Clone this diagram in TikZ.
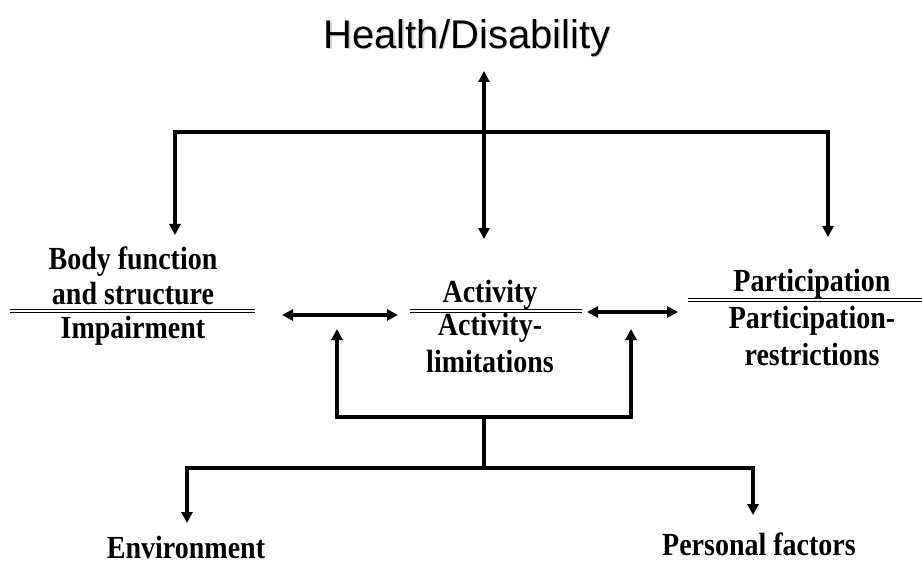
\documentclass[tikz,border=0pt]{standalone}
\usepackage{fontspec}
\setmainfont{Liberation Serif}
\newfontfamily\titlefont{Liberation Sans}
\usetikzlibrary{arrows.meta}
\newcommand\tallt[1]{\scalebox{1}[1.15]{#1}}
\tikzset{
  conn/.style={line width=3.2pt, line cap=butt, line join=miter},
  tip/.style={-{Triangle[length=11pt,width=11pt]}},
  tips/.style={{Triangle[length=11pt,width=11pt]}-{Triangle[length=11pt,width=11pt]}},
  lbl/.style={inner sep=0pt, font=\fontsize{28}{30}\selectfont\bfseries},
  bar/.style={line width=1.4pt, double distance=1.6pt, double=white, draw=black},
}
\begin{document}
\begin{tikzpicture}[x=1pt,y=-1pt]
\useasboundingbox (0,0) rectangle (922,567);
% title with faint shadow
\node[inner sep=0pt, text=black!15, font=\titlefont\fontsize{40}{44}\selectfont] at (468.5,39.5) {Health/Disability};
\node (title) [inner sep=0pt, font=\titlefont\fontsize{40}{44}\selectfont] at (467,38) {Health/Disability};

% named coordinates
\coordinate (htop) at (484,71);
\coordinate (hbot) at (484,239);
\coordinate (hl) at (175,132);
\coordinate (hr) at (828,132);
\coordinate (hc) at (484,132);
\coordinate (bodyin) at (175,235);
\coordinate (partin) at (828,237);

% left block
\node (body1) [lbl] at (133,262) {\tallt{Body function}};
\node (body2) [lbl] at (133,294) {\tallt{and structure}};
\node (imp)   [lbl] at (133,331) {\tallt{Impairment}};
\coordinate (lbarL) at (10,311);
\coordinate (lbarR) at (255,311);
\draw[bar] (lbarL) -- (lbarR);

% middle block
\node (act1) [lbl] at (490,295) {\tallt{Activity}};
\node (act2) [lbl] at (490,328) {\tallt{Activity-}};
\node (act3) [lbl] at (490,361) {\tallt{limitations}};
\coordinate (mbarL) at (410,311);
\coordinate (mbarR) at (582,311);
\draw[bar] (mbarL) -- (mbarR);

% right block
\node (part1) [lbl] at (812,284) {\tallt{Participation}};
\node (part2) [lbl] at (812,321) {\tallt{Participation-}};
\node (part3) [lbl] at (812,354) {\tallt{restrictions}};
\coordinate (rbarL) at (688,300);
\coordinate (rbarR) at (922,300);
\draw[bar] (rbarL) -- (rbarR);

% bottom labels
\node (env)  [lbl, anchor=base] at (186,558) {\tallt{Environment}};
\node (pers) [lbl] at (759,544) {\tallt{Personal factors}};

% top connectors
\draw[conn, tips] (htop) -- (hbot);
\draw[conn, tip] (hc) -- (hl) -- (bodyin);
\draw[conn, tip] (hc) -- (hr) -- (partin);

% horizontal double arrows
\coordinate (a1L) at (282,315);
\coordinate (a1R) at (398,315);
\coordinate (a2L) at (587,312);
\coordinate (a2R) at (678,312);
\draw[conn, tips] (a1L) -- (a1R);
\draw[conn, tips] (a2L) -- (a2R);

% lower bracket
\coordinate (u1top) at (337,329);
\coordinate (u1bot) at (337,417);
\coordinate (u2top) at (631,329);
\coordinate (u2bot) at (631,417);
\coordinate (uc) at (484,417);
\coordinate (dc) at (484,468);
\coordinate (dl) at (187,468);
\coordinate (dr) at (753,468);
\coordinate (envin) at (187,523);
\coordinate (persin) at (753,515);
\draw[conn, tip] (uc) -- (u1bot) -- (u1top);
\draw[conn, tip] (uc) -- (u2bot) -- (u2top);
\draw[conn] (uc) -- (dc);
\draw[conn, tip] (dc) -- (dl) -- (envin);
\draw[conn, tip] (dc) -- (dr) -- (persin);
\end{tikzpicture}
\end{document}
